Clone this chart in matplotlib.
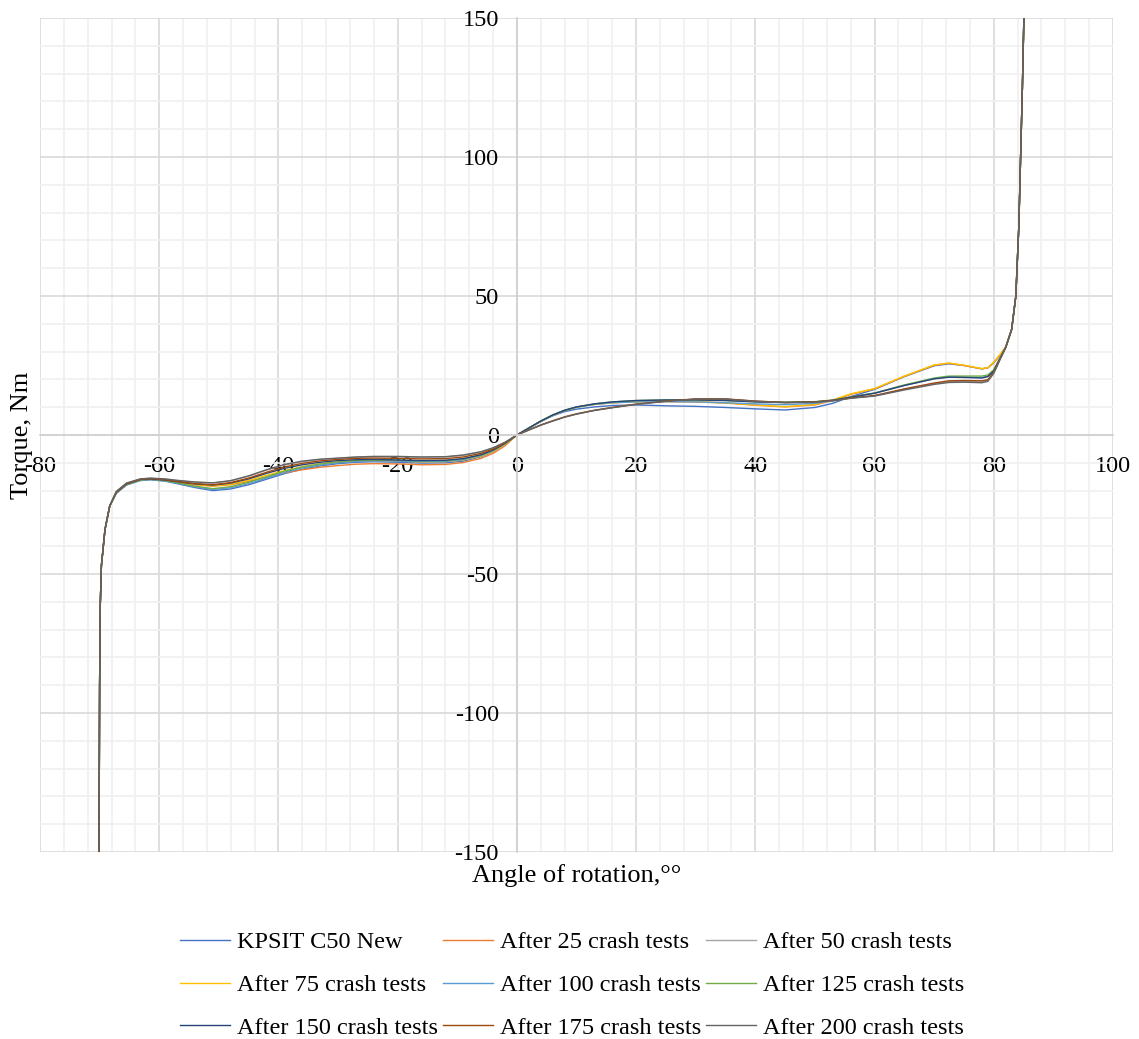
import matplotlib.pyplot as plt
from matplotlib.ticker import MultipleLocator

plt.rcParams['font.family'] = ['Liberation Serif', 'DejaVu Serif']
plt.rcParams['axes.unicode_minus'] = False

# angle of rotation (deg), shared by all series
angle = [-70.1, -70.0, -69.9, -69.7, -69.1, -68.3, -67.2, -65.5, -63.2, -61.5,
         -59, -57, -54, -51, -48, -45, -42, -39, -36, -33,
         -30, -27, -24, -20, -16, -12, -9, -6, -4, -2,
         0, 2, 4, 6, 8, 10, 13, 16, 20, 25,
         30, 35, 40, 45, 50, 53, 56, 60, 65, 70,
         72.5, 75, 78, 79, 80, 81, 82, 83, 83.7, 84.2,
         84.5, 84.8, 85.05]

# torque (Nm) for each series
new_ = [-150, -90, -62, -47, -34, -25.5, -21.0, -18.0, -16.4, -16.1,
        -16.6, -17.5, -18.9, -20.0, -19.4, -17.9, -15.9, -13.9, -12.3, -11.1,
        -10.3, -9.8, -9.6, -9.8, -10.1, -10.0, -9.4, -7.8, -6.0, -3.4,
        0, 2.4, 4.8, 6.9, 8.4, 9.3, 10.1, 10.6, 10.8, 10.5,
        10.3, 9.9, 9.4, 9.0, 9.9, 11.4, 13.8, 16.4, 21.0, 24.9,
        25.6, 25.0, 23.8, 24.2, 26.0, 28.5, 31.5, 38, 50, 75,
        100, 125, 150]
t25 = [-150, -90, -62, -47, -34, -25.5, -20.8, -17.8, -16.2, -15.9,
       -16.3, -17.0, -17.9, -18.4, -17.9, -16.7, -15.1, -13.6, -12.5, -11.6,
       -11.0, -10.5, -10.3, -10.4, -10.7, -10.6, -9.9, -8.4, -6.6, -3.9,
       0, 2.5, 5.0, 7.1, 8.8, 10.0, 11.0, 11.6, 12.0, 12.0,
       11.9, 11.5, 10.7, 10.1, 10.8, 12.4, 14.6, 16.6, 21.1, 25.1,
       25.8, 25.0, 23.8, 24.1, 26.1, 28.7, 31.5, 38, 50, 75,
       100, 125, 150]
t50 = [-150, -90, -62, -47, -34, -25.5, -20.4, -17.4, -15.9, -15.6,
       -15.9, -16.4, -17.0, -17.3, -16.5, -14.8, -12.6, -10.8, -9.6, -8.8,
       -8.4, -8.0, -7.8, -7.8, -8.0, -7.9, -7.3, -6.1, -4.7, -2.7,
       0, 1.8, 3.6, 5.1, 6.5, 7.6, 8.9, 9.9, 11.1, 12.2,
       12.9, 12.9, 12.2, 11.7, 11.9, 12.4, 13.3, 14.1, 16.4, 18.5,
       19.2, 19.3, 19.1, 19.6, 22.4, 27.0, 31.5, 38, 50, 75,
       100, 125, 150]
t75 = [-150, -90, -62, -47, -34, -25.5, -20.7, -17.7, -16.1, -15.8,
       -16.2, -16.9, -17.8, -18.3, -17.7, -16.3, -14.5, -12.8, -11.4, -10.4,
       -9.8, -9.4, -9.2, -9.4, -9.7, -9.6, -9.0, -7.6, -5.9, -3.4,
       0, 2.5, 5.0, 7.1, 8.8, 10.0, 11.0, 11.6, 12.0, 12.1,
       12.0, 11.6, 10.8, 10.2, 11.0, 12.6, 14.8, 16.7, 21.2, 25.2,
       25.9, 25.1, 23.9, 24.2, 26.2, 28.8, 31.8, 38, 50, 75,
       100, 125, 150]
t100 = [-150, -90, -62, -47, -34, -25.5, -20.9, -17.9, -16.3, -16.0,
        -16.5, -17.3, -18.6, -19.6, -19.0, -17.5, -15.5, -13.5, -11.9, -10.8,
        -10.0, -9.5, -9.3, -9.4, -9.6, -9.5, -8.9, -7.4, -5.7, -3.2,
        0, 2.5, 5.0, 7.1, 8.8, 10.0, 11.0, 11.6, 11.9, 12.0,
        11.9, 11.6, 11.2, 10.9, 11.4, 12.3, 13.6, 15.1, 17.9, 20.3,
        20.9, 20.8, 20.7, 21.2, 23.2, 27.5, 31.5, 38, 50, 75,
        100, 125, 150]
t125 = [-150, -90, -62, -47, -34, -25.5, -20.8, -17.8, -16.2, -15.9,
        -16.4, -17.2, -18.4, -19.3, -18.6, -17.0, -15.0, -13.0, -11.5, -10.4,
        -9.7, -9.2, -9.0, -9.1, -9.3, -9.2, -8.6, -7.2, -5.5, -3.1,
        0, 2.5, 5.0, 7.2, 8.9, 10.1, 11.2, 11.9, 12.4, 12.6,
        12.6, 12.4, 12.0, 11.8, 12.0, 12.6, 13.7, 15.1, 18.0, 20.5,
        21.2, 21.2, 21.2, 21.6, 23.5, 27.6, 31.5, 38, 50, 75,
        100, 125, 150]
t150 = [-150, -90, -62, -47, -34, -25.5, -20.6, -17.6, -16.0, -15.8,
        -16.2, -16.8, -17.6, -18.0, -17.3, -15.8, -13.8, -12.0, -10.7, -9.8,
        -9.2, -8.9, -8.8, -9.0, -9.2, -9.1, -8.5, -7.1, -5.4, -3.0,
        0, 2.5, 5.0, 7.2, 8.9, 10.1, 11.2, 11.9, 12.4, 12.6,
        12.6, 12.4, 11.9, 11.7, 11.9, 12.5, 13.6, 15.0, 17.8, 20.2,
        20.8, 20.7, 20.5, 21.0, 23.0, 27.3, 31.5, 38, 50, 75,
        100, 125, 150]
t175 = [-150, -90, -62, -47, -34, -25.5, -20.5, -17.5, -16.0, -15.7,
        -16.1, -16.7, -17.5, -17.9, -17.1, -15.5, -13.4, -11.5, -10.2, -9.3,
        -8.8, -8.4, -8.3, -8.4, -8.6, -8.5, -7.9, -6.6, -5.1, -2.9,
        0, 1.8, 3.6, 5.1, 6.5, 7.6, 8.9, 9.9, 11.1, 12.2,
        13.0, 13.0, 12.2, 11.7, 11.9, 12.4, 13.3, 14.2, 16.6, 18.7,
        19.5, 19.6, 19.5, 19.9, 22.6, 27.1, 31.5, 38, 50, 75,
        100, 125, 150]
t200 = [-150, -90, -62, -47, -34, -25.5, -20.3, -17.3, -15.8, -15.5,
        -15.8, -16.3, -16.9, -17.2, -16.4, -14.7, -12.5, -10.6, -9.4, -8.7,
        -8.3, -7.9, -7.7, -7.7, -7.9, -7.8, -7.2, -6.0, -4.6, -2.6,
        0, 1.8, 3.5, 5.0, 6.4, 7.5, 8.8, 9.8, 11.0, 12.1,
        12.9, 12.9, 12.1, 11.6, 11.8, 12.3, 13.2, 14.0, 16.2, 18.2,
        18.9, 19.0, 18.8, 19.3, 22.2, 26.9, 31.5, 38, 50, 75,
        100, 125, 150]

labels = ["KPSIT C50 New", "After 25 crash tests", "After 50 crash tests",
          "After 75 crash tests", "After 100 crash tests", "After 125 crash tests",
          "After 150 crash tests", "After 175 crash tests", "After 200 crash tests"]
colors = ["#4472C4", "#ED7D31", "#A5A5A5", "#FFC000", "#5B9BD5",
          "#70AD47", "#264478", "#9E480E", "#636363"]
series = [new_, t25, t50, t75, t100, t125, t150, t175, t200]

fig = plt.figure(figsize=(11.39, 10.39), dpi=100)
ax = fig.add_axes([40/1139, 1-852/1039, (1113-40)/1139, (852-18)/1039])

lines = []
for y, lab, c in zip(series, labels, colors):
    l, = ax.plot(angle, y, color=c, linewidth=1.0, label=lab,
                 solid_joinstyle='round')
    lines.append(l)

ax.set_xlim(-80, 100)
ax.set_ylim(-150, 150)
ax.xaxis.set_major_locator(MultipleLocator(20))
ax.xaxis.set_minor_locator(MultipleLocator(4))
ax.yaxis.set_major_locator(MultipleLocator(50))
ax.yaxis.set_minor_locator(MultipleLocator(10))
ax.grid(which='minor', color='#f0f0f0', linewidth=1.2)
ax.grid(which='major', color='#d9d9d9', linewidth=1.2)
ax.set_axisbelow(True)

# axes crossing at zero like excel
ax.spines['left'].set_position(('data', 0))
ax.spines['bottom'].set_position(('data', 0))
for s in ['left', 'bottom']:
    ax.spines[s].set_color('#d0d0d0')
    ax.spines[s].set_linewidth(1.2)
ax.spines['top'].set_visible(False)
ax.spines['right'].set_visible(False)
ax.tick_params(which='both', length=0)
ax.tick_params(axis='x', labelsize=17.5, pad=15)
ax.tick_params(axis='y', labelsize=17.5, pad=13)

fig.text(22/1139, 1-435/1039, "Torque, Nm", rotation=90, ha='center', va='center', fontsize=19)
fig.text(577/1139, 1-876/1039, "Angle of rotation,\u00b0\u00b0", ha='center', va='center', fontsize=19)

# legend filled row by row (matplotlib fills columns first)
order = [0, 3, 6, 1, 4, 7, 2, 5, 8]
fig.legend([lines[i] for i in order], [labels[i] for i in order],
           loc='center', bbox_to_anchor=(572/1139, 1-985/1039), ncol=3, frameon=False,
           fontsize=17.5, handlelength=2.05, handletextpad=0.29, columnspacing=0.2,
           labelspacing=0.85)

fig.savefig("out.png", dpi=100)
